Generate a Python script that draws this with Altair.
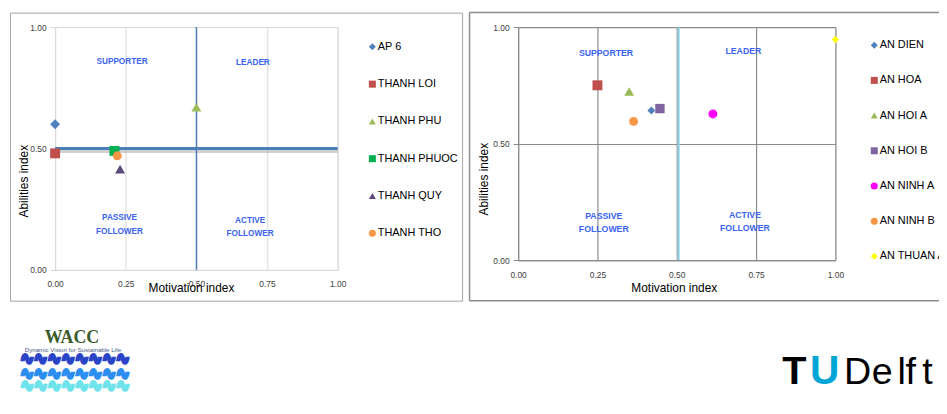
import altair as alt
import pandas as pd

# ---------------- data ----------------
left_names = ["AP 6", "THANH LOI", "THANH PHU", "THANH PHUOC", "THANH QUY", "THANH THO"]
left_motivation = [0.00, 0.00, 0.50, 0.21, 0.23, 0.22]
left_abilities = [0.60, 0.48, 0.67, 0.49, 0.415, 0.47]
left_colors = ["#4F81BD", "#C0504D", "#9BBB59", "#00B050", "#5F497A", "#F79646"]
left_shapes = ["diamond", "square", "triangle-up", "square", "triangle-up", "circle"]
left_sizes = [100, 100, 100, 100, 100, 81]

right_names = ["AN DIEN", "AN HOA", "AN HOI A", "AN HOI B", "AN NINH A", "AN NINH B", "AN THUAN A"]
right_motivation = [0.42, 0.25, 0.35, 0.447, 0.614, 0.364, 1.00]
right_abilities = [0.642, 0.75, 0.723, 0.65, 0.627, 0.595, 0.946]
right_colors = ["#4F81BD", "#C0504D", "#9BBB59", "#8064A2", "#FF00FF", "#F79646", "#FFFF00"]
right_shapes = ["diamond", "square", "triangle-up", "square", "circle", "circle", "diamond"]
right_sizes = [64, 100, 100, 90, 81, 81, 50]

quad_text = ["SUPPORTER", "LEADER", "PASSIVE\nFOLLOWER", "ACTIVE\nFOLLOWER"]
left_quad_x = [0.237, 0.70, 0.228, 0.69]
left_quad_y = [0.857, 0.85, 0.213, 0.203]
right_quad_x = [0.277, 0.71, 0.27, 0.715]
right_quad_y = [0.887, 0.896, 0.189, 0.194]

x_ticks = [0.0, 0.25, 0.5, 0.75, 1.0]
y_ticks = [0.0, 0.5, 1.0]
threshold = [0.5]

FONT = "Liberation Sans"
QUAD_COLOR = "#3a63f2"
one = pd.DataFrame({"k": [0]})


def frame_rect(x0, x1, y0, y1, color, width):
    return alt.Chart(one).mark_rect(fillOpacity=0, stroke=color, strokeWidth=width).encode(
        x=alt.value(x0), x2=alt.value(x1), y=alt.value(y0), y2=alt.value(y1))


def hrule(x0, x1, y, color, width):
    return alt.Chart(one).mark_rule(color=color, strokeWidth=width).encode(
        x=alt.value(x0), x2=alt.value(x1), y=alt.value(y))


def vrule(x, y0, y1, color, width):
    return alt.Chart(one).mark_rule(color=color, strokeWidth=width).encode(
        x=alt.value(x), y=alt.value(y0), y2=alt.value(y1))


def deco_text(txt, x, y, size, color, font=FONT, weight="normal", align="center",
              baseline="middle", stroke=None, sw=0):
    kw = dict(text=txt, fontSize=size, color=color, font=font, fontWeight=weight,
              align=align, baseline=baseline)
    if stroke:
        kw.update(stroke=stroke, strokeWidth=sw)
    return alt.Chart(one).mark_text(**kw).encode(x=alt.value(x), y=alt.value(y))


def panel(names, mx, ab, colors, shapes, sizes, qx, qy, grid_color, grid_w,
          x_title_pos, y_title_pos, legend_xy, row_pad, label_pad_x, quad_size):
    df = pd.DataFrame({"name": names, "motivation": mx, "abilities": ab, "size": sizes})
    xs = alt.Scale(domain=[0, 1], nice=False, zero=False)
    ys = alt.Scale(domain=[0, 1], nice=False, zero=False)
    leg = alt.Legend(orient="none", legendX=legend_xy[0], legendY=legend_xy[1], title=None,
                     labelFont=FONT, labelFontSize=11, labelColor="#000000", symbolSize=50,
                     rowPadding=row_pad, labelOffset=0, symbolStrokeWidth=0, labelLimit=200)
    xaxis = alt.Axis(values=x_ticks, format=".2f", title="Motivation index", grid=True,
                     gridColor=grid_color, gridWidth=grid_w, domainColor=grid_color,
                     domainWidth=grid_w, ticks=False, tickSize=0, labelPadding=label_pad_x,
                     labelFlush=False, labelFont=FONT, labelFontSize=8.5, labelColor="#404040",
                     titleFont=FONT, titleFontSize=12, titleFontWeight="normal",
                     titleColor="#000000", titleX=x_title_pos[0], titleY=x_title_pos[1],
                     titleBaseline="middle", titleAlign="center")
    yaxis = alt.Axis(values=y_ticks, format=".2f", title="Abilities index", grid=True,
                     gridColor=grid_color, gridWidth=grid_w, domainColor=grid_color,
                     domainWidth=grid_w, ticks=True, tickSize=5, tickColor=grid_color,
                     labelPadding=4, labelFlush=False, labelFont=FONT, labelFontSize=8.5,
                     labelColor="#404040",
                     titleFont=FONT, titleFontSize=12, titleFontWeight="normal",
                     titleColor="#000000", titleX=y_title_pos[0], titleY=y_title_pos[1],
                     titleBaseline="middle", titleAlign="center")
    base = alt.Chart(df).mark_point(filled=True, opacity=1).encode(
        x=alt.X("motivation:Q", scale=xs, axis=xaxis),
        y=alt.Y("abilities:Q", scale=ys, axis=yaxis),
        color=alt.Color("name:N", scale=alt.Scale(domain=names, range=colors), legend=leg),
        shape=alt.Shape("name:N", scale=alt.Scale(domain=names, range=shapes), legend=leg),
        size=alt.Size("size:Q", scale=None, legend=None),
    )
    qdf = pd.DataFrame({"t": quad_text, "x": qx, "y": qy})
    quads = alt.Chart(qdf).mark_text(font=FONT, fontSize=quad_size, fontWeight="bold",
                                     color=QUAD_COLOR, lineBreak="\n", lineHeight=13.5,
                                     baseline="middle").encode(
        x=alt.X("x:Q", scale=xs), y=alt.Y("y:Q", scale=ys), text="t:N")
    return base, quads, xs, ys


# ---------------- left panel ----------------
LW, LH = 285, 245
lbase, lquads, lxs, lys = panel(left_names, left_motivation, left_abilities, left_colors,
                                left_shapes, left_sizes, left_quad_x, left_quad_y,
                                "#d9d9d9", 1, (137, 18), (-32, 155), (314.5, 14.5), 25.6, 9.5, 8.3)
thr = pd.DataFrame({"v": threshold})
l_hshadow = alt.Chart(thr).mark_rule(color="#9a9a9a", strokeWidth=4, opacity=0.45, yOffset=2.5).encode(
    y=alt.Y("v:Q", scale=lys), x=alt.value(0), x2=alt.value(LW))
l_hline = alt.Chart(thr).mark_rule(color="#4a7ebb", strokeWidth=3).encode(
    y=alt.Y("v:Q", scale=lys), x=alt.value(0), x2=alt.value(LW))
l_vline = alt.Chart(thr).mark_rule(color="#4a7ebb", strokeWidth=1.3).encode(
    x=alt.X("v:Q", scale=lxs), y=alt.value(0), y2=alt.value(LH))

wacc = [
    deco_text("WACC", 17, 314, 18, "#3b5a2a", font="Liberation Serif", weight="bold"),
    deco_text("Dynamic Vision for Sustainable Life", 18, 325.5, 6.2, "#4a5a8a"),
    deco_text("∿∿∿∿∿∿∿∿", 20, 335, 16.5, "#2a44c8", font="DejaVu Sans", stroke="#2a44c8", sw=3),
    deco_text("∿∿∿∿∿∿∿∿", 20, 350, 16.5, "#2b8ef0", font="DejaVu Sans", stroke="#2b8ef0", sw=3),
    deco_text("∿∿∿∿∿∿∿∿", 20, 362, 16.5, "#6fe3ec", font="DejaVu Sans", stroke="#6fe3ec", sw=3),
]

left = alt.layer(
    frame_rect(-45, 411, -14, 276.5, "#a6a6a6", 1),
    l_hshadow, l_hline, l_vline, lquads, lbase, *wacc
).properties(width=LW, height=LH)

# ---------------- right panel ----------------
RW, RH = 320, 235
rbase, rquads, rxs, rys = panel(right_names, right_motivation, right_abilities, right_colors,
                                right_shapes, right_sizes, right_quad_x, right_quad_y,
                                "#8c8c8c", 1.2, (157, 28), (-35, 153), (353.7, 12.8), 23.5, 10.5, 8.8)
r_vline = alt.Chart(thr).mark_rule(color="#8fd0e6", strokeWidth=2.2, xOffset=1.8).encode(
    x=alt.X("v:Q", scale=rxs), y=alt.value(0), y2=alt.value(RH))

BL = 360.3  # logo baseline, relative to the right plot area
tud = [
    deco_text("T", 266.5, BL, 40, "#000000", weight="bold", align="left", baseline="alphabetic"),
    deco_text("U", 294.5, BL, 41, "#00a6d6", weight="bold", align="left", baseline="alphabetic"),
    deco_text("D", 328.7, BL, 38, "#000000", align="left", baseline="alphabetic"),
    deco_text("e", 356.7, BL, 38, "#000000", align="left", baseline="alphabetic"),
    deco_text("l", 382.7, BL, 38, "#000000", align="left", baseline="alphabetic"),
    deco_text("f", 390.7, BL, 38, "#000000", align="left", baseline="alphabetic"),
    deco_text("t", 407.7, BL, 38, "#000000", align="left", baseline="alphabetic"),
]

right = alt.layer(
    hrule(-49, 440, -14.7, "#8c8c8c", 1.5),
    vrule(-49, -14.7, 276, "#8c8c8c", 1.5),
    hrule(-49, 440, 276, "#8c8c8c", 1.5),
    r_vline, rquads, rbase, *tud
).properties(width=RW, height=RH)

chart = alt.hconcat(left, right, spacing=4).resolve_scale(
    color="independent", shape="independent", x="independent", y="independent"
).resolve_legend(color="independent", shape="independent").properties(
    autosize=alt.AutoSizeParams(type="none"),
    padding={"left": 47.5, "top": 17.5, "right": 891.5, "bottom": 378.5}
).configure_view(stroke=None).configure(font=FONT)

chart.save("out.html", embed_options={"renderer": "svg", "actions": False})
